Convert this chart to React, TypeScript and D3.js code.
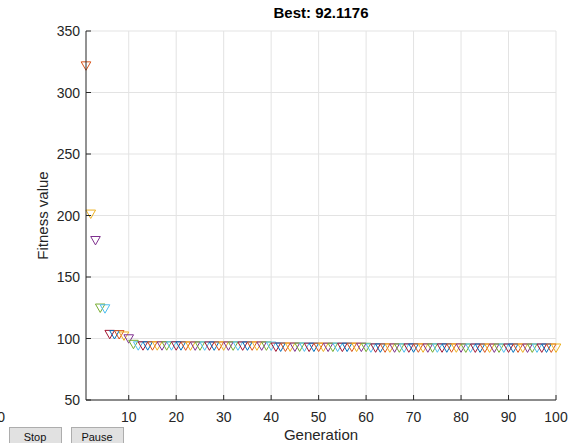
import React from "react";
import * as d3 from "d3";

// Best fitness per generation
const generations: number[] = d3.range(1, 101);
const bestFitness: number[] = [
  321.5, 201.0, 179.5, 124.6, 124.0, 103.2, 103.0, 103.0, 101.9, 99.6,
  95.1, 93.9, 93.9, 93.9, 93.9, 93.9, 93.9, 93.9, 93.9, 93.9,
  93.9, 93.8, 93.8, 93.8, 93.8, 93.8, 93.8, 93.8, 93.8, 93.8,
  93.8, 93.8, 93.8, 93.8, 93.8, 93.8, 93.8, 93.8, 93.8, 93.7,
  92.9, 92.9, 92.9, 92.9, 92.9, 92.9, 92.9, 92.8, 92.8, 92.8,
  92.8, 92.8, 92.8, 92.8, 92.8, 92.8, 92.8, 92.8, 92.8, 92.7,
  92.2, 92.2, 92.2, 92.2, 92.2, 92.2, 92.2, 92.2, 92.2, 92.2,
  92.2, 92.2, 92.2, 92.2, 92.2, 92.2, 92.2, 92.2, 92.2, 92.2,
  92.1176, 92.1176, 92.1176, 92.1176, 92.1176, 92.1176, 92.1176, 92.1176, 92.1176, 92.1176,
  92.1176, 92.1176, 92.1176, 92.1176, 92.1176, 92.1176, 92.1176, 92.1176, 92.1176, 92.1176,
];
const xTicks: number[] = [10, 20, 30, 40, 50, 60, 70, 80, 90, 100];
const yTicks: number[] = [50, 100, 150, 200, 250, 300, 350];
const colorOrder: string[] = [
  "#0072BD", "#D95319", "#EDB120", "#7E2F8E", "#77AC30", "#4DBEEE", "#A2142F",
];
const titleText = "Best: 92.1176";
const xLabel = "Generation";
const yLabel = "Fitness value";
const buttons: string[] = ["Stop", "Pause"];

const W = 570;
const H = 443;
const left = 86;
const right = 556;
const top = 31;
const bottom = 400;
const font = "'Liberation Sans', Arial, Helvetica, sans-serif";
const ink = "#262626";

export default function App() {
  const x = d3.scaleLinear().domain([1, 100]).range([left, right]);
  const y = d3.scaleLinear().domain([50, 350]).range([bottom, top]);
  const tri = "M-4.8,-4.2L4.8,-4.2L0,4.2Z";

  return (
    <svg
      width={W}
      height={H}
      style={{ position: "absolute", left: 0, top: 0, background: "#fff" }}
      fontFamily={font}
    >
      {/* grid */}
      <g stroke="#e3e3e3" strokeWidth={1}>
        {xTicks.map((t) => (
          <line key={"gx" + t} x1={x(t)} x2={x(t)} y1={top} y2={bottom} />
        ))}
        {yTicks.map((t) => (
          <line key={"gy" + t} x1={left} x2={right} y1={y(t)} y2={y(t)} />
        ))}
      </g>

      {/* markers */}
      <g fill="none" strokeWidth={1}>
        {generations.map((g, i) => (
          <path
            key={"m" + g}
            d={tri}
            transform={`translate(${x(g)},${y(bestFitness[i])})`}
            stroke={colorOrder[g % colorOrder.length]}
          />
        ))}
      </g>

      {/* axes */}
      <g stroke={ink} strokeWidth={1}>
        <line x1={left} x2={right} y1={bottom} y2={bottom} />
        <line x1={left} x2={left} y1={top} y2={bottom} />
        {xTicks.map((t) => (
          <line key={"tx" + t} x1={x(t)} x2={x(t)} y1={bottom} y2={bottom - 5} />
        ))}
        {yTicks.map((t) => (
          <line key={"ty" + t} x1={left} x2={left + 5} y1={y(t)} y2={y(t)} />
        ))}
      </g>

      <g fill={ink} fontSize={14}>
        {xTicks.map((t) => (
          <text key={"lx" + t} x={x(t)} y={bottom + 22} textAnchor="middle">
            {t}
          </text>
        ))}
        {yTicks.map((t) => (
          <text key={"ly" + t} x={left - 6} y={y(t) + 5} textAnchor="end">
            {t}
          </text>
        ))}
        <text x={5} y={bottom + 22} textAnchor="end">0</text>
      </g>

      <text
        x={(left + right) / 2}
        y={18}
        textAnchor="middle"
        fontWeight="bold"
        fontSize={15}
        fill="#000"
      >
        {titleText}
      </text>
      <text
        x={(left + right) / 2}
        y={440}
        textAnchor="middle"
        fontSize={15}
        fill={ink}
      >
        {xLabel}
      </text>
      <text
        transform={`translate(48,${(top + bottom) / 2}) rotate(-90)`}
        textAnchor="middle"
        fontSize={15}
        fill={ink}
      >
        {yLabel}
      </text>

      {/* control buttons */}
      {buttons.map((b, i) => {
        const bx = 9 + i * 62;
        return (
          <g key={b}>
            <rect x={bx + 0.5} y={427.5} width={52} height={20} fill="#e1e1e1" stroke="#adadad" />
            <text x={bx + 26} y={441} textAnchor="middle" fontSize={11} fill="#111">
              {b}
            </text>
          </g>
        );
      })}
    </svg>
  );
}
